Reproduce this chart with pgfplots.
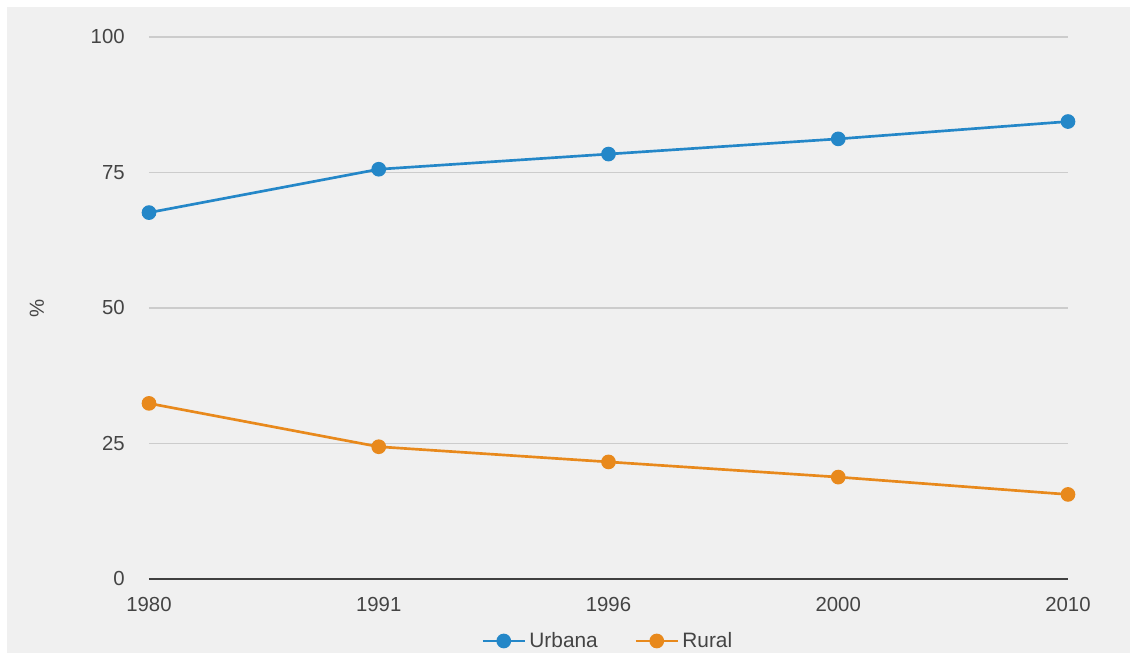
\documentclass[border=0pt]{standalone}
\usepackage{pgfplots}
\pgfplotsset{compat=1.18}
\usepackage{fontspec}
\setmainfont{Liberation Sans}
\definecolor{bgc}{RGB}{240,240,240}
\definecolor{urb}{RGB}{36,135,200}
\definecolor{rur}{RGB}{232,137,28}
\definecolor{txt}{RGB}{68,68,68}
\definecolor{gridc}{RGB}{204,204,204}
\begin{document}
\begin{tikzpicture}[x=0.6pt,y=0.6pt]
\useasboundingbox (0,0) rectangle (1137,660);
\fill[white] (0,0) rectangle (1137,660);
\fill[bgc] (7,7) rectangle (1130,653);
\begin{axis}[
  at={(149*0.6pt,81*0.6pt)}, anchor=south west,
  scale only axis, width=551.4pt, height=325.2pt,
  xmin=0, xmax=4, ymin=0, ymax=100,
  xtick={0,1,2,3,4}, xticklabels={1980,1991,1996,2000,2010},
  ytick={0,25,50,75,100},
  /pgf/number format/assume math mode=true,
  major tick length=0pt,
  axis x line*=bottom, axis y line*=left,
  x axis line style={draw=black!75, line width=1.2pt, -},
  y axis line style={draw=none},
  ymajorgrids, grid style={gridc, line width=0.7pt},
  clip=false,
  font=\fontsize{12.2}{14}\selectfont,
  ticklabel style={txt, font=\fontsize{12.2}{14}\selectfont},
  yticklabel style={inner sep=0pt, anchor=east, xshift=-14.4pt},
  xticklabel style={inner sep=0pt, anchor=north, yshift=-11pt},
  ylabel={\%},
  ylabel style={at={(axis description cs:-0.122,0.5)}, anchor=center, rotate=0, txt, font=\fontsize{12.2}{14}\selectfont},
  legend columns=2,
  legend style={at={(0.5,-0.1144)}, anchor=center, draw=none, fill=none,
    font=\fontsize{12.5}{14}\selectfont, text=txt,
    /tikz/every even column/.append style={column sep=20pt}},
  legend image code/.code={
    \draw[#1, mark repeat=2, mark phase=2] plot coordinates {(0pt,0pt) (12.6pt,0pt) (25.2pt,0pt)};
  },
]
\addplot[urb, line width=1.6pt, mark=*, mark size=3.6pt, mark options={fill=urb, draw=urb}]
  coordinates {(0,67.6) (1,75.6) (2,78.4) (3,81.2) (4,84.4)};
\addlegendentry{Urbana}
\addplot[rur, line width=1.6pt, mark=*, mark size=3.6pt, mark options={fill=rur, draw=rur}]
  coordinates {(0,32.4) (1,24.4) (2,21.6) (3,18.8) (4,15.6)};
\addlegendentry{Rural}
\end{axis}
\end{tikzpicture}
\end{document}
